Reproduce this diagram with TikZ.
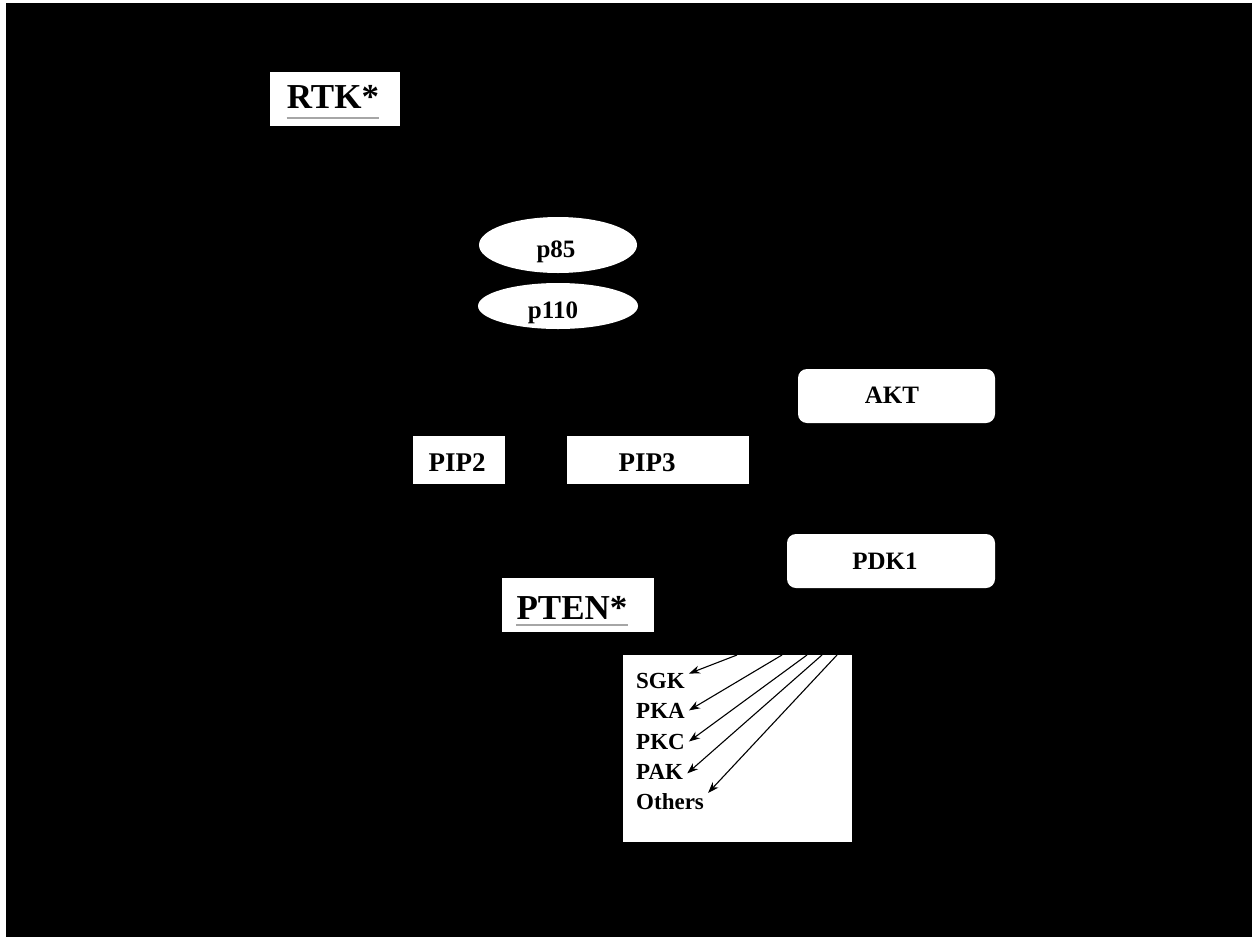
\documentclass[tikz,border=0pt]{standalone}
\usepackage{fontspec}
\setmainfont{Liberation Serif}
\usetikzlibrary{arrows.meta,shapes.geometric}
\begin{document}
\begin{tikzpicture}[x=1pt,y=-1pt,
  whitebox/.style={fill=white,draw=none,inner sep=0pt},
  pill/.style={whitebox,rounded corners=9pt},
  oval/.style={ellipse,fill=white,draw=none,inner sep=0pt},
  txt/.style={inner sep=0pt,anchor=base,text=black},
  big/.style={txt,font=\fontsize{35}{40}\selectfont\bfseries},
  mid/.style={txt,font=\fontsize{27}{32}\selectfont\bfseries},
  std/.style={txt,font=\fontsize{25}{30}\selectfont\bfseries},
  small/.style={inner sep=0pt,anchor=base west,font=\fontsize{23}{27}\selectfont\bfseries},
  ul/.style={draw=gray!70,line width=2pt},
  hit/.style={draw=black,line width=1.1pt,-{Stealth[length=11pt,width=8pt]}}]
\useasboundingbox (0,0) rectangle (1255,937);
% page and dark panel
\fill[white] (0,0) rectangle (1255,937);
\fill[black] (6,3) rectangle (1252,937);

% receptor
\node[whitebox,minimum width=130pt,minimum height=54pt] (rtk) at (335,99) {};
\node[big] (rtkt) at (333,108) {RTK*};
\draw[ul] ([yshift=-10pt]rtkt.base west) -- ([yshift=-10pt]rtkt.base east);

% PI3K subunits
\node[oval,minimum width=158pt,minimum height=56pt] (p85) at (558,245) {};
\node[std] (p85t) at (556,257) {p85};
\node[oval,minimum width=160pt,minimum height=46pt] (p110) at (558,306) {};
\node[std] (p110t) at (553,318) {p110};

% kinases
\node[pill,minimum width=197pt,minimum height=54pt] (akt) at (896.5,396) {};
\node[std] (aktt) at (892,403) {AKT};
\node[pill,minimum width=208pt,minimum height=54pt] (pdk) at (891,561) {};
\node[std] (pdkt) at (885,569) {PDK1};

% lipids
\node[whitebox,minimum width=92pt,minimum height=48pt] (pip2) at (459,460) {};
\node[mid] (pip2t) at (457,471) {PIP2};
\node[whitebox,minimum width=182pt,minimum height=48pt] (pip3) at (658,460) {};
\node[mid] (pip3t) at (647,471) {PIP3};

% phosphatase
\node[whitebox,minimum width=152pt,minimum height=54pt] (pten) at (578,605) {};
\node[big] (ptent) at (572,619) {PTEN*};
\draw[ul] ([yshift=-6pt]ptent.base west) -- ([yshift=-6pt]ptent.base east);

% downstream targets
\node[whitebox,minimum width=229pt,minimum height=187pt] (targets) at (737.5,748.5) {};
\node[small] (sgk) at (636,688) {SGK};
\node[small] (pka) at (636,718) {PKA};
\node[small] (pkc) at (636,749) {PKC};
\node[small] (pak) at (636,779) {PAK};
\node[small] (others) at (636,809) {Others};

\coordinate (s1) at (737,655);
\coordinate (s2) at (782,655);
\coordinate (s3) at (807,655);
\coordinate (s4) at (822,655);
\coordinate (s5) at (837,655);
\draw[hit] (s1) -- ([xshift=4pt,yshift=-1pt]sgk.north east);
\draw[hit] (s2) -- ([xshift=4pt]pka.east);
\draw[hit] (s3) -- ([xshift=4pt]pkc.east);
\draw[hit] (s4) -- ([xshift=4pt,yshift=-2pt]pak.east);
\draw[hit] (s5) -- ([xshift=4pt]others.north east);
\end{tikzpicture}
\end{document}
